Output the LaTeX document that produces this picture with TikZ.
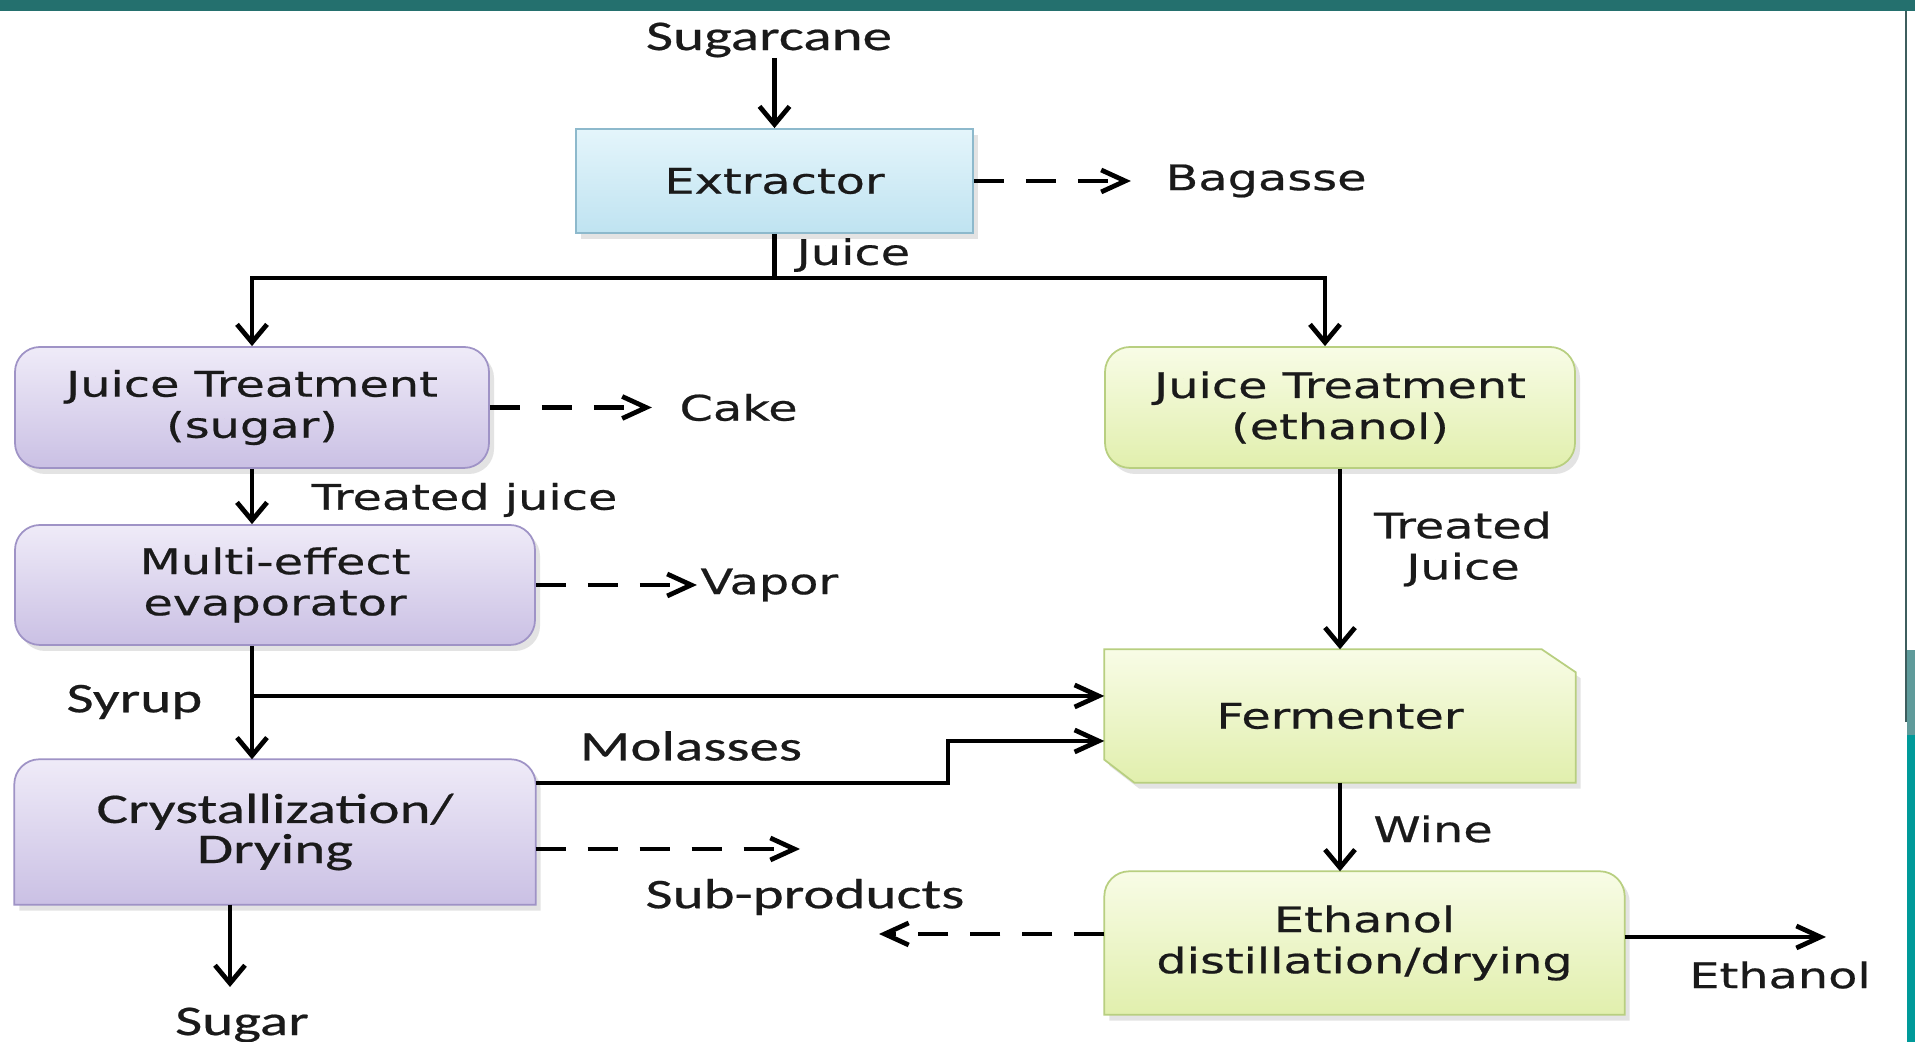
\documentclass[tikz,border=0pt]{standalone}
\usepackage{fontspec}
\newfontfamily\boxfont{DejaVu Sans}[FakeStretch=1.36, FakeBold=0.6]
\newfontfamily\calfont{Carlito}[FakeStretch=1.4, FakeBold=0.5]
\usepackage{tikz}
\usetikzlibrary{arrows.meta,positioning,shadows,backgrounds}
\usepackage{xcolor}

\definecolor{ink}{HTML}{1A1A1A}
\definecolor{extTop}{HTML}{E4F5FB}
\definecolor{extBot}{HTML}{BFE3F1}
\definecolor{extLine}{HTML}{8DB9CC}
\definecolor{sugTop}{HTML}{EFEBF8}
\definecolor{sugBot}{HTML}{CAC0E4}
\definecolor{sugLine}{HTML}{9F93C6}
\definecolor{ethTop}{HTML}{F8FCE6}
\definecolor{ethBot}{HTML}{E1EFAD}
\definecolor{ethLine}{HTML}{B8CF80}
\definecolor{bandTeal}{HTML}{24706E}
\definecolor{edgeTeal}{HTML}{009A9A}
\definecolor{edgeLight}{HTML}{5F9B9B}
\definecolor{edgeDark}{HTML}{3E5E5E}

\begin{document}
\begin{tikzpicture}[
  x=0.1mm, y=0.1mm,
  font=\boxfont\fontsize{10}{11.7}\selectfont,
  lbl/.style={inner sep=0pt, text=ink},
  lblCal/.style={lbl, font=\calfont\fontsize{12}{11.4}\selectfont},
  boxShadow/.style={drop shadow={shadow xshift=0.5mm, shadow yshift=-0.6mm, opacity=0.22}},
  box/.style={inner sep=0pt, align=center, text=ink, line width=0.5pt, boxShadow},
  extBox/.style={box, draw=extLine, top color=extTop, bottom color=extBot},
  sugBox/.style={box, rounded corners=2.5mm, draw=sugLine, top color=sugTop, bottom color=sugBot},
  ethBox/.style={box, rounded corners=2.5mm, draw=ethLine, top color=ethTop, bottom color=ethBot},
  bare/.style={inner sep=0pt, align=center, text=ink},
  sugShape/.style={draw=sugLine, line width=0.5pt, top color=sugTop, bottom color=sugBot, boxShadow},
  ethShape/.style={draw=ethLine, line width=0.5pt, top color=ethTop, bottom color=ethBot, boxShadow},
  link/.style={line width=1.35pt},
  arrow/.style={-{Straight Barb[length=2.4mm,width=2.2mm]}, line width=1.35pt},
  arrowV/.style={-{Straight Barb[length=1.8mm,width=3mm]}, line width=1.35pt},
  dashArrow/.style={arrow, dash pattern=on 3mm off 2.2mm},
]
\useasboundingbox (0,0) rectangle (1915,1042);

% --- Top: cane in, extractor ---
\node[lblCal] (cane) at (769,1002) {Sugarcane};
\node[extBox, minimum width=39.7mm, minimum height=10.4mm] (ext) at (774.5,861) {Extractor};
\node[lbl, right=19.1mm of ext] (bagasse) {Bagasse};
\coordinate (jn) at (774.5,764);
\node[lbl, anchor=west] (juice) at (796,787) {Juice};

% --- Left column (sugar line) ---
\node[sugBox, minimum width=47.4mm, minimum height=12.1mm] (jts) at (252,634.5) {Juice Treatment\\(sugar)};
\node[lbl, right=18.9mm of jts] (cake) {Cake};
\node[lbl, anchor=west] (tjuice) at (311,542) {Treated juice};
\node[sugBox, minimum width=52mm, minimum height=12mm] (mee) at (275,457) {Multi-effect\\evaporator};
\node[lbl, right=16.4mm of mee] (vapor) {Vapor};
\node[lblCal, anchor=east] (syrup) at (203,340) {Syrup};
\node[bare, minimum width=52mm, minimum height=14.4mm, font=\calfont\fontsize{12}{11.4}\selectfont] (cry) at (275,210) {Crystallization/\\Drying};
\node[lblCal] (molasses) at (691,296) {Molasses};
\node[lblCal] (subprod) at (805,145) {Sub-products};
\node[lblCal] (sugar) at (242,17) {Sugar};

% --- Right column (ethanol line) ---
\node[ethBox, minimum width=47mm, minimum height=12.1mm] (jte) at (1340,634.5) {Juice Treatment\\(ethanol)};
\node[lbl, align=center] (tjuice2) at (1463,493) {Treated\\Juice};
\node[bare, minimum width=47mm, minimum height=13.2mm] (fer) at (1340,326) {Fermenter};
\node[lbl] (wine) at (1433,213) {Wine};
\node[bare, minimum width=51.9mm, minimum height=14.2mm] (eth) at (1364.5,99) {Ethanol\\distillation/drying};
\node[lbl] (ethanol) at (1780,67) {Ethanol};

% free arrow ends
\coordinate (syj) at (252,346);
\coordinate (molStep) at (948,301);
\coordinate (subA) at (800,193);
\coordinate (subB) at (879,108);
\coordinate (sugarTip) at (230,55);
\coordinate (ethTip) at (1826,105);

% --- hand-drawn box outlines ---
\begin{scope}[on background layer]
  \fill[white] (0,0) rectangle (1915,1042);
  \path[sugShape] (cry.south west) -- ([yshift=-2.5mm]cry.north west)
    arc[start angle=180, end angle=90, radius=2.5mm] -- ([xshift=-2.5mm]cry.north east)
    arc[start angle=90, end angle=0, radius=2.5mm] -- (cry.south east) -- cycle;
  \path[ethShape] (eth.south west) -- ([yshift=-2.5mm]eth.north west)
    arc[start angle=180, end angle=90, radius=2.5mm] -- ([xshift=-2.5mm]eth.north east)
    arc[start angle=90, end angle=0, radius=2.5mm] -- (eth.south east) -- cycle;
  \path[ethShape] (fer.north west) -- ([xshift=-3.4mm]fer.north east) -- ([yshift=-2.3mm]fer.north east)
    -- (fer.south east) -- ([xshift=3mm]fer.south west) -- ([yshift=2.3mm]fer.south west) -- cycle;
\end{scope}

% connectors top
\draw[arrowV] (ext.north |- cane.south) -- (ext.north);
\draw[dashArrow, shorten >=3.4mm] (ext) -- (bagasse);
\draw[link] (ext.south) -- (jn);
\draw[arrowV] (jn) -| (jts.north);
\draw[arrowV] (jn) -| ([xshift=-1.5mm]jte.north);

% connectors sugar line
\draw[dashArrow, shorten >=2.7mm] (jts) -- (cake);
\draw[arrowV] (jts.south) -- (jts.south |- mee.north);
\draw[dashArrow, shorten >=0.3mm] (mee) -- (vapor);
\draw[arrowV] (jts.south |- mee.south) -- (jts.south |- cry.north);
\draw[arrow] (syj) -- (syj -| fer.west);
\draw[arrow] ([yshift=4.9mm]cry.east) -| (molStep) -- (molStep -| fer.west);
\draw[dashArrow] (subA -| cry.east) -- (subA);
\draw[arrowV] (sugarTip |- cry.south) -- (sugarTip);

% connectors ethanol line
\draw[arrowV] (jte.south) -- (fer.north);
\draw[arrowV] (fer.south) -- (fer.south |- eth.north);
\draw[dashArrow] (subB -| eth.west) -- (subB);
\draw[arrow] (ethTip -| eth.east) -- (ethTip);

% frame band and right edge
\fill[bandTeal] (0,1031) rectangle (1915,1042);
\fill[edgeDark] (1905,320) rectangle (1907,1031);
\fill[edgeLight] (1907,307) rectangle (1915,392);
\fill[edgeTeal] (1907,0) rectangle (1915,307);
\end{tikzpicture}
\end{document}
